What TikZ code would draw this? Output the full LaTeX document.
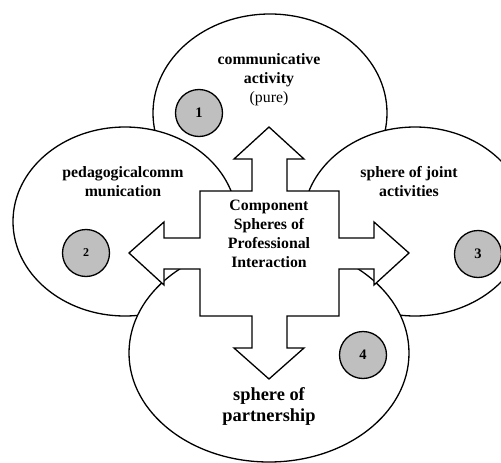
\documentclass[tikz,border=0pt]{standalone}
\usepackage{fontspec}
\setmainfont{Liberation Serif}
\usetikzlibrary{shapes.geometric}
\begin{document}
\begin{tikzpicture}[x=1pt,y=-1pt,
  sphere/.style={ellipse,draw=black,fill=white,line width=1.3pt,inner sep=0pt},
  numdot/.style={circle,draw=black,fill=black!25,line width=1.3pt,minimum size=47pt,inner sep=0pt,font=\fontsize{14.5}{16}\selectfont\bfseries},
  lbl/.style={align=center,font=\fontsize{15.8}{19}\selectfont\bfseries,inner sep=0pt},
  bigarrow/.style={draw=black,fill=white,line width=1.3pt,line join=miter}]
\useasboundingbox (0,0) rectangle (501,463);
\clip (0,0) rectangle (501,463);
% spheres
\node[sphere,minimum width=234pt,minimum height=198pt] (top) at (270,113) {};
\node[sphere,minimum width=224pt,minimum height=189pt] (left) at (125,221.5) {};
\node[sphere,minimum width=224pt,minimum height=189pt] (right) at (415,221.5) {};
\node[sphere,minimum width=280pt,minimum height=218pt] (bottom) at (269,353) {};
% four-way arrow
\draw[bigarrow] (269,127) -- (304,159) -- (287,159) -- (287,191) -- (339,191) -- (339,238)
  -- (374,238) -- (374,222) -- (409,253) -- (374,285) -- (374,269) -- (339,269) -- (339,316)
  -- (287,316) -- (287,348) -- (304,348) -- (269,379) -- (234,348) -- (252,348) -- (252,316)
  -- (200,316) -- (200,269) -- (164,269) -- (164,285) -- (129,253) -- (164,222) -- (164,238)
  -- (200,238) -- (200,191) -- (252,191) -- (252,159) -- (234,159) -- cycle;
% numbered dots
\node[numdot] (n1) at (199,113) {1};
\node[numdot,font=\fontsize{12}{14}\selectfont\bfseries] (n2) at (86,253) {2};
\node[numdot] (n3) at (478,254) {3};
\node[numdot] (n4) at (363,355) {4};
% labels
\node[lbl] (ltop) at (269,80) {communicative\\activity\\\mdseries(pure)};
\node[lbl] (lleft) at (123,181.5) {pedagogicalcomm\\munication};
\node[lbl] (lright) at (409,181.5) {sphere of joint\\activities};
\node[lbl,font=\fontsize{18.4}{21}\selectfont\bfseries] (lbottom) at (269,406.5) {sphere of\\partnership};
\node[lbl] (lcenter) at (269,233.5) {Component\\Spheres of\\Professional\\Interaction};
\end{tikzpicture}
\end{document}
